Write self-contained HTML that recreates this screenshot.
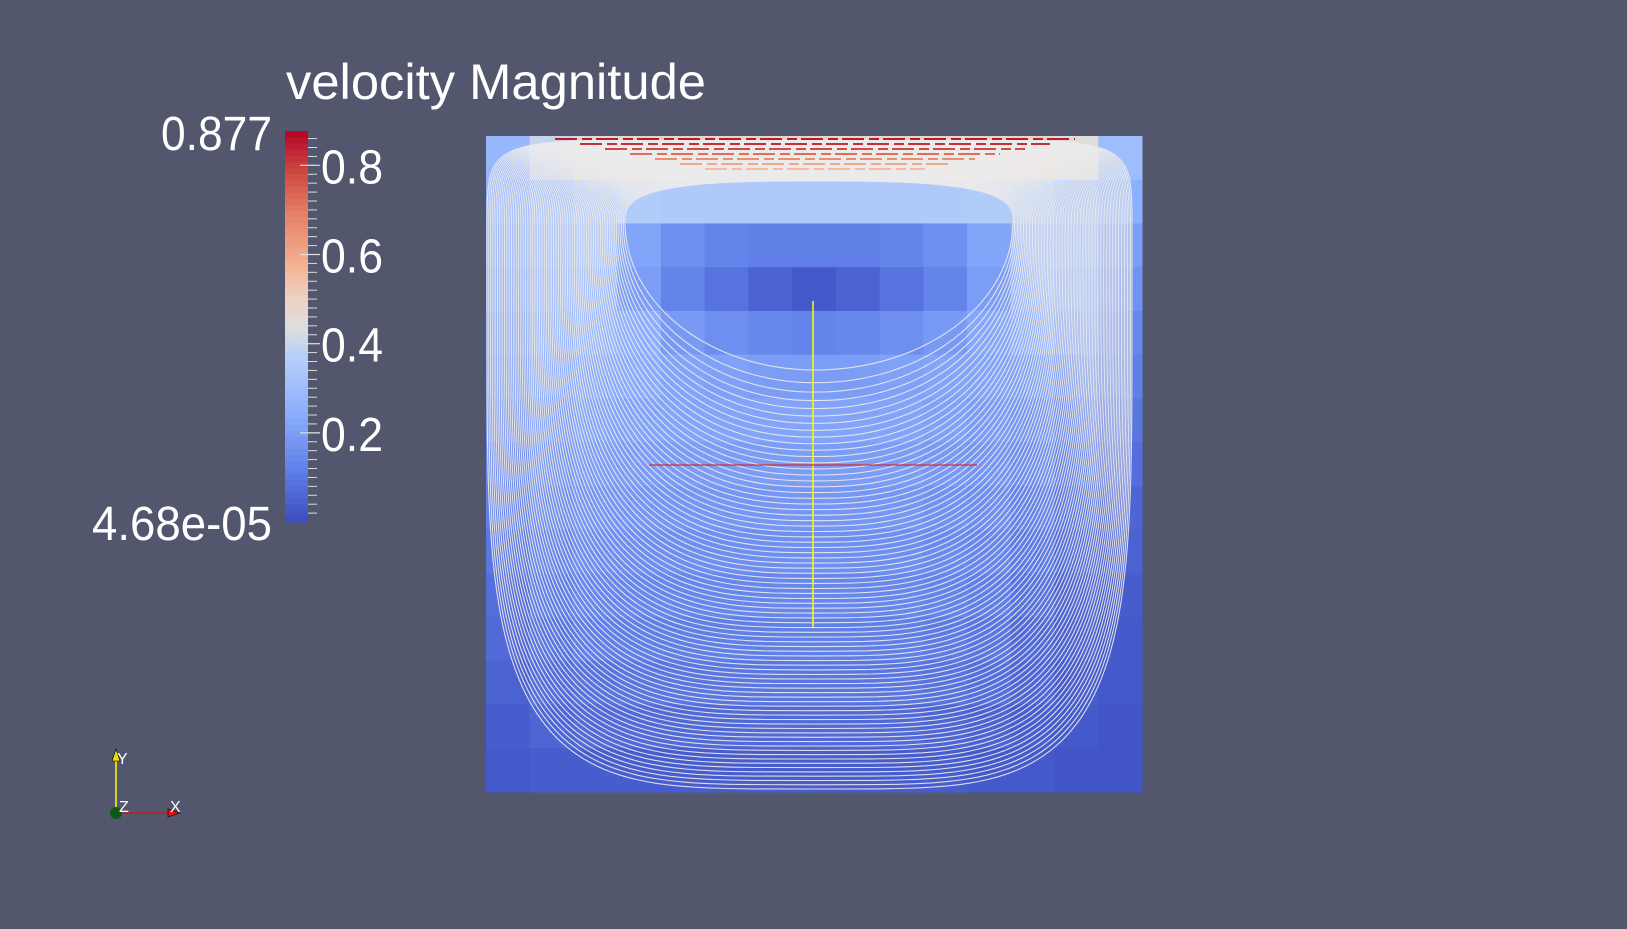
<!DOCTYPE html>
<html><head><meta charset="utf-8"><style>
html,body{margin:0;padding:0;background:#52576e;}
svg{display:block;}
text{font-family:"Liberation Sans",sans-serif;fill:#fff;}
</style></head><body>
<svg id="chart" width="1627" height="929" viewBox="0 0 1627 929">
<rect x="0" y="0" width="1627" height="929" fill="#52576e"/>
<g id="cells"></g>
<g id="stream"></g>
<g id="topstreaks"></g>
<line x1="813" y1="301" x2="813" y2="628" stroke="#ffff00" stroke-width="1.5"/>
<line x1="649" y1="465" x2="977" y2="465" stroke="#e01010" stroke-width="1"/>
<text x="286" y="99" font-size="50" textLength="420" lengthAdjust="spacingAndGlyphs">velocity Magnitude</text>
<g id="cbar"></g>
<text x="272" y="150" font-size="48" text-anchor="end" textLength="111" lengthAdjust="spacingAndGlyphs">0.877</text>
<text x="272" y="540" font-size="48" text-anchor="end" textLength="180" lengthAdjust="spacingAndGlyphs">4.68e-05</text>
<g id="cticks"></g>
<g>
<line x1="116" y1="813" x2="116" y2="758" stroke="#ffff00" stroke-width="1.5"/>
<polygon points="112,761 120,761 116,749" fill="#e8e000" stroke="#000" stroke-width="0.6"/>
<line x1="116" y1="813" x2="170" y2="813" stroke="#e01010" stroke-width="1.2"/>
<polygon points="168,809 168,817 180,813" fill="#e01010" stroke="#000" stroke-width="0.6"/>
<circle cx="116" cy="813" r="6" fill="#0a5a12"/>
<text x="117" y="764" font-size="16">Y</text>
<text x="119" y="812" font-size="16">Z</text>
<text x="170" y="812" font-size="16">X</text>
</g>
</svg>
<script>
const NS='http://www.w3.org/2000/svg';
const vmin=0.0000468, vmax=0.877;
const tickValues=[0.2,0.4,0.6,0.8];
const tickLabels=['0.2','0.4','0.6','0.8'];
const magRows=[
[0.28,0.40,0.46,0.48,0.48,0.48,0.48,0.48,0.48,0.48,0.48,0.48,0.48,0.44,0.30],
[0.26,0.30,0.34,0.36,0.35,0.35,0.35,0.35,0.35,0.35,0.35,0.36,0.34,0.30,0.25],
[0.24,0.28,0.30,0.22,0.16,0.13,0.12,0.12,0.12,0.13,0.16,0.22,0.28,0.26,0.20],
[0.22,0.26,0.28,0.20,0.13,0.09,0.05,0.03,0.05,0.09,0.13,0.20,0.27,0.24,0.17],
[0.20,0.24,0.27,0.25,0.19,0.16,0.14,0.13,0.14,0.16,0.19,0.23,0.25,0.21,0.14],
[0.18,0.22,0.24,0.24,0.22,0.21,0.20,0.20,0.20,0.21,0.22,0.22,0.21,0.17,0.12],
[0.16,0.20,0.22,0.22,0.22,0.22,0.22,0.22,0.22,0.22,0.21,0.20,0.18,0.14,0.10],
[0.14,0.18,0.20,0.20,0.20,0.20,0.20,0.20,0.20,0.20,0.19,0.18,0.16,0.12,0.08],
[0.12,0.16,0.18,0.18,0.18,0.18,0.18,0.18,0.18,0.18,0.17,0.16,0.13,0.10,0.06],
[0.10,0.14,0.16,0.16,0.16,0.16,0.16,0.16,0.16,0.16,0.15,0.14,0.11,0.08,0.05],
[0.08,0.12,0.14,0.14,0.14,0.14,0.14,0.14,0.14,0.14,0.13,0.12,0.09,0.06,0.04],
[0.07,0.10,0.12,0.12,0.12,0.12,0.12,0.12,0.12,0.12,0.11,0.10,0.07,0.05,0.03],
[0.05,0.08,0.09,0.10,0.10,0.10,0.10,0.10,0.10,0.10,0.09,0.08,0.06,0.04,0.03],
[0.04,0.06,0.07,0.07,0.07,0.07,0.07,0.07,0.07,0.07,0.06,0.05,0.04,0.03,0.02],
[0.03,0.04,0.04,0.04,0.04,0.04,0.04,0.04,0.04,0.04,0.04,0.03,0.03,0.02,0.02]
];
const lidStreakValues=[0.85,0.82,0.78,0.72,0.66,0.6,0.55];
const streamlineCount=80;

const stops=[[0,[59,76,192]],[0.143,[98,130,234]],[0.286,[141,176,254]],[0.429,[184,208,249]],[0.5,[221,221,221]],[0.571,[236,211,197]],[0.643,[245,183,153]],[0.786,[229,130,103]],[0.9,[205,70,65]],[1,[180,4,38]]];
function cmap(v){
  let t=(v-vmin)/(vmax-vmin); t=Math.max(0,Math.min(1,t));
  let i=0; while(i<stops.length-2 && t>stops[i+1][0]) i++;
  const [t0,a]=stops[i],[t1,b]=stops[i+1];
  const s=(t-t0)/(t1-t0);
  return 'rgb('+a.map((x,k)=>Math.round(x+(b[k]-x)*s)).join(',')+')';
}
const X0=486,X1=1142,Y0=136,Y1=792;
const nR=magRows.length,nC=magRows[0].length;
const cw=(X1-X0)/nC,ch=(Y1-Y0)/nR;
const cells=document.getElementById('cells');
magRows.forEach((row,r)=>row.forEach((v,c)=>{
  const el=document.createElementNS(NS,'rect');
  el.setAttribute('x',X0+c*cw);el.setAttribute('y',Y0+r*ch);
  el.setAttribute('width',cw+0.5);el.setAttribute('height',ch+0.5);
  el.setAttribute('fill',cmap(v));
  
  
  cells.appendChild(el);
}));
const st=document.getElementById('stream');
const cx=815;
for(let i=0;i<streamlineCount;i++){
  const t=i/(streamlineCount-1);
  const L=625-t*(625-487), R=1013+t*(1132-1013);
  const top=181-t*(181-140), ym=222+t*70, bot=370+Math.pow(t,0.8)*(789-370);
  const nu=3+6*t, nl=2.0+2.2*t;
  let d='';
  for(let k=0;k<=200;k++){
    const th=k/200*2*Math.PI;
    const co=Math.cos(th), si=Math.sin(th);
    const hw=co>=0?(R-cx):(cx-L);
    const up=si<0;
    const n=up?nu:nl;
    const x=cx+Math.sign(co)*Math.pow(Math.abs(co),2/n)*hw;
    const y=up? ym-Math.pow(Math.abs(si),2/n)*(ym-top) : ym+Math.pow(Math.abs(si),2/n)*(bot-ym);
    d+=(k?'L':'M')+Math.min(X1-2,Math.max(X0+1,x)).toFixed(1)+' '+Math.min(Y1-1,Math.max(Y0+1,y)).toFixed(1);
  }
  const p=document.createElementNS(NS,'path');
  p.setAttribute('d',d);p.setAttribute('fill','none');
  p.setAttribute('stroke','#ecebeb');p.setAttribute('stroke-width','1.1');p.setAttribute('opacity','0.9');
  
  
  st.appendChild(p);
}
const ts=document.getElementById('topstreaks');
lidStreakValues.forEach((v,i)=>{
  const y=Y0+3+i*5;
  const half=(260-i*25);
  const l=document.createElementNS(NS,'line');
  l.setAttribute('x1',cx-half);l.setAttribute('x2',cx+half);
  l.setAttribute('y1',y);l.setAttribute('y2',y);
  l.setAttribute('stroke',cmap(v));l.setAttribute('stroke-width','2');
  l.setAttribute('stroke-dasharray','22 5 10 4');
  
  
  ts.appendChild(l);
});
const CB_X=285,CB_W=23,CB_T=131,CB_B=522;
const yScale=v=>CB_B-(v-vmin)/(vmax-vmin)*(CB_B-CB_T);
const cb=document.getElementById('cbar');
const nb=64;
for(let i=0;i<nb;i++){
  const v0=vmin+(vmax-vmin)*i/nb, v1=vmin+(vmax-vmin)*(i+1)/nb;
  const r=document.createElementNS(NS,'rect');
  r.setAttribute('x',CB_X);r.setAttribute('y',yScale(v1));
  r.setAttribute('width',CB_W);r.setAttribute('height',yScale(v0)-yScale(v1)+0.6);
  r.setAttribute('fill',cmap((v0+v1)/2));
  
  
  cb.appendChild(r);
}
for(let v=0.02;v<vmax;v+=0.02){
  const l=document.createElementNS(NS,'line');
  l.setAttribute('x1',CB_X+CB_W);l.setAttribute('x2',CB_X+CB_W+9);
  l.setAttribute('y1',yScale(v));l.setAttribute('y2',yScale(v));
  l.setAttribute('stroke','#ddd');l.setAttribute('stroke-width','1');
  
  
  cb.appendChild(l);
}
const ct=document.getElementById('cticks');
tickValues.forEach((v,i)=>{
  const y=yScale(v);
  const l=document.createElementNS(NS,'line');
  l.setAttribute('x1',CB_X+CB_W-8);l.setAttribute('x2',CB_X+CB_W+12);
  l.setAttribute('y1',y);l.setAttribute('y2',y);
  l.setAttribute('stroke','#ddd');l.setAttribute('stroke-width','1.2');
  
  
  ct.appendChild(l);
  const t=document.createElementNS(NS,'text');
  t.setAttribute('x',321);t.setAttribute('y',y+18);
  t.setAttribute('font-size','48');
  t.setAttribute('textLength','62');t.setAttribute('lengthAdjust','spacingAndGlyphs');
  t.textContent=tickLabels[i];
  
  
  ct.appendChild(t);
});
</script>
</body></html>
